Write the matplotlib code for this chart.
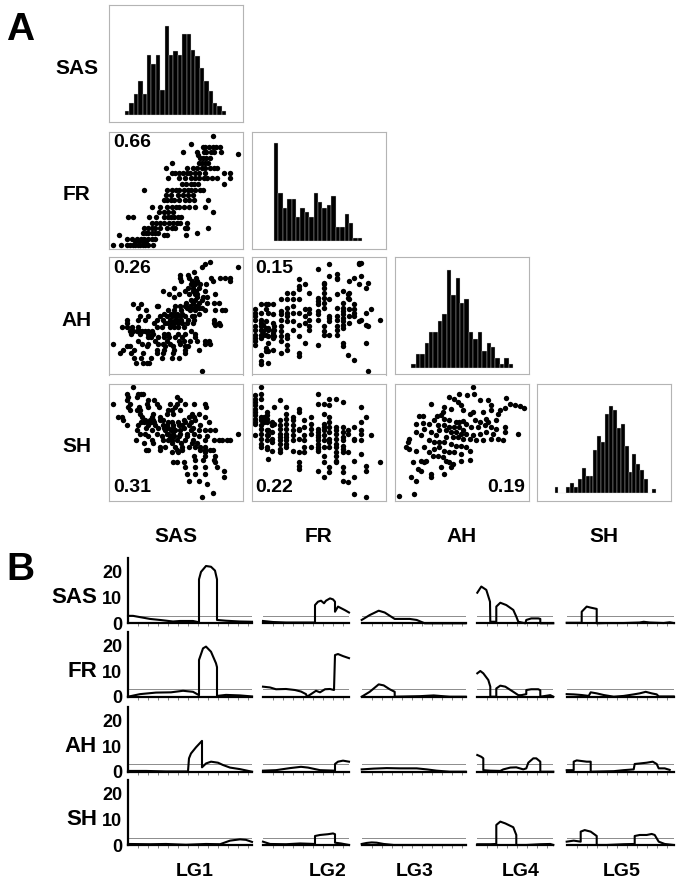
import numpy as np
import matplotlib.pyplot as plt

plt.rcParams['font.family'] = ['Liberation Sans', 'DejaVu Sans']
plt.rcParams['font.weight'] = 'bold'

TRAITS = ["SAS", "FR", "AH", "SH"]
LG_NAMES = ["LG1", "LG2", "LG3", "LG4", "LG5"]
LOD_THRESHOLD = 2.9

# histogram bar counts (one per bin)
SAS_HIST = [12, 37, 64, 102, 64, 182, 154, 182, 77, 270, 180, 192, 180, 245, 245,
            197, 179, 142, 102, 72, 37, 27, 12]
FR_HIST = [294, 146, 99, 127, 127, 72, 99, 89, 72, 146, 117, 99, 109, 137, 44,
           44, 81, 54, 9, 9]
AH_HIST = [10, 40, 40, 73, 105, 105, 138, 160, 290, 215, 268, 193, 205, 105, 85,
           105, 50, 73, 63, 30, 10, 30, 10]
SH_HIST = [18, 0, 0, 18, 30, 18, 40, 73, 50, 50, 127, 170, 150, 235, 257, 247,
           192, 205, 140, 63, 115, 85, 67, 40, 0, 10]

# scatter values, grouped by shared y (rows) or shared x (cols); y grows downward
SAS_FR_ROWS = [
    (22, [323]), (47, [258]), (55, [292, 300, 310, 322, 333, 343]),
    (72, [233, 275, 295, 303, 318, 327, 348]), (77, [398]), (80, [278]),
    (88, [283, 292, 303, 315]), (105, [200, 280, 290, 300, 308]),
    (120, [183, 245, 263, 275, 290, 300, 313, 325, 335]),
    (135, [200, 210, 222, 232, 245, 255, 268, 280, 298, 355, 373]),
    (150, [190, 220, 240, 258, 268, 282, 295, 305, 320, 335, 373]),
    (168, [230, 242, 256, 265, 278, 357]),
    (185, [118, 185, 200, 212, 222, 235, 248, 258, 270, 283, 293]),
    (200, [183, 198, 218, 233, 248, 262]),
    (215, [178, 185, 198, 208, 222, 240, 252, 265, 308]),
    (235, [140, 165, 185, 200, 212, 222, 235, 250, 270, 298]),
    (250, [163, 178, 190, 205, 322]),
    (265, [70, 85, 133, 153, 178, 188, 198, 208, 218, 228]),
    (283, [140, 153, 165, 178, 193, 205, 215, 225, 245]),
    (298, [118, 130, 140, 150, 165, 185, 200, 210, 238, 245, 308]),
    (312, [113, 123, 130, 140, 150, 158, 275]), (318, [42, 178, 185, 243]),
    (330, [65, 80, 95, 108, 118, 130, 140, 150]), (338, [90, 103, 113, 123]),
    (348, [25, 48, 65, 75, 83, 90, 98, 105, 113, 120, 128, 143]),
]
SAS_AH_ROWS = [
    (22, [315]), (30, [298]), (38, [290, 398]), (52, [265]), (62, [225, 248]),
    (72, [225, 252, 272, 318, 345, 358, 375]), (80, [228, 260, 275, 322, 375]),
    (90, [258, 268, 283, 303]), (100, [208, 248, 262, 280]),
    (110, [175, 238, 262, 272, 298]), (120, [193, 222, 250, 268, 275, 330]),
    (128, [208, 275, 293, 305]), (138, [258, 268, 290]),
    (145, [243, 262, 280, 305, 325, 340]), (150, [85, 108]),
    (155, [155, 160, 210, 225, 240, 255, 273]), (160, [100, 245, 258, 265, 280, 290]),
    (168, [123, 188, 208, 228, 253, 270, 300, 330, 350, 358]),
    (178, [178, 198, 208, 215, 230, 280]),
    (185, [105, 128, 165, 185, 200, 212, 225, 240, 260, 265]),
    (195, [65, 100, 120, 155, 175, 195, 210, 215, 228, 248, 265, 325]),
    (205, [65, 148, 180, 190, 200, 208, 218, 230, 245, 262, 325, 340]),
    (212, [328, 345]), (218, [50, 65, 80, 100, 155, 170, 195, 208, 218, 235]),
    (228, [75, 85, 95, 105, 112, 120, 130, 140, 258]),
    (238, [78, 105, 130, 145, 178, 188, 218, 240, 268]),
    (248, [130, 138, 158, 178, 192, 210, 230, 268]),
    (260, [100, 150, 185, 220, 235, 255, 275, 298, 310]),
    (268, [25, 110, 130, 158, 175, 195, 225, 298, 315]),
    (275, [65, 75, 125, 180, 205, 238, 248]), (285, [55, 88, 155, 178, 208, 238, 280]),
    (295, [45, 78, 115, 155, 175, 205, 240]), (310, [88, 108, 138, 170, 200, 220]),
    (325, [93, 115, 125, 133]), (348, [290]),
]
SAS_SH_ROWS = [
    (20, [85]), (40, [65, 100, 108, 115]), (50, [68, 95, 215]), (58, [65, 128, 148, 223]),
    (72, [25, 75, 125, 155, 195, 215, 240, 265, 300]), (80, [68, 103, 128, 162, 210, 303]),
    (90, [75, 95, 105, 190, 200, 225]), (100, [105, 145, 185, 205, 260, 280]),
    (110, [40, 50, 110, 140, 165, 250, 265, 300]),
    (118, [55, 120, 135, 145, 165, 175, 235, 270]),
    (125, [108, 118, 128, 138, 148, 190, 200, 218, 240, 258, 310]),
    (135, [65, 100, 130, 150, 175, 185, 205, 220, 230, 250, 283]),
    (143, [123, 160, 178, 190, 205, 235, 262]),
    (150, [95, 140, 180, 198, 210, 225, 258, 280, 300, 315, 330]),
    (160, [105, 120, 155, 185, 190, 203, 225, 245, 265, 398]),
    (168, [130, 170, 195, 208, 222, 245, 280, 305]),
    (178, [92, 140, 175, 190, 200, 215, 240, 262, 300, 325, 340, 350, 365, 375]),
    (188, [118, 145, 200, 228, 260, 275]),
    (198, [165, 180, 210, 230, 250, 270, 283, 300]),
    (208, [123, 130, 165, 215, 230, 285, 300, 315, 322]), (215, [200, 218, 298]),
    (225, [265, 300, 328]), (238, [270, 293, 325]), (245, [205, 215, 235, 330]),
    (258, [240, 268, 298, 335]), (270, [355]), (280, [245, 270, 300]), (290, [355]),
    (300, [250, 280]), (310, [305]), (338, [323]), (348, [290]),
]
FR_AH_COLS = [
    (22, [165, 175, 185, 195, 215, 225, 240, 250, 258, 270]),
    (40, [150, 175, 195, 205, 215, 225, 240, 250, 300, 320, 328]),
    (45, [210, 230, 240]), (55, [150, 165, 200, 220, 240, 280, 290]),
    (62, [150, 175, 220, 225, 245, 265, 290, 325]),
    (75, [150, 180, 205, 225, 235, 240, 250, 285]), (80, [215, 225, 245]),
    (100, [135, 170, 180, 195, 215, 230, 245, 260, 295]),
    (118, [115, 135, 160, 175, 185, 200, 240, 250, 270, 285]),
    (135, [115, 135, 155, 175, 200, 225]),
    (155, [75, 95, 105, 135, 175, 210, 245, 295, 305]),
    (172, [90, 165, 185, 205, 265]), (185, [115, 165, 175, 195, 215, 225]),
    (210, [45, 130, 140, 150, 170, 180, 195, 270]),
    (228, [85, 90, 100, 115, 130, 145, 160, 215, 230, 240]),
    (245, [30, 65, 135, 185, 190, 200, 240]),
    (268, [60, 70, 75, 120, 160, 185, 195, 215, 225, 240]),
    (285, [110, 145, 160, 170, 180, 190, 200, 210, 220, 265, 275]),
    (300, [120, 130, 300]), (305, [80, 115, 135, 165, 185, 205]),
    (320, [70, 150, 165, 175, 185, 315]), (335, [25, 30, 90, 200]),
    (340, [25, 65, 195]), (355, [100, 175, 210, 265]), (360, [85, 215, 348]),
    (370, [165]), (398, [195]),
]
FR_SH_COLS = [
    (22, [45, 55, 65, 75, 85, 95, 105, 115, 125, 130, 165]),
    (40, [20, 40, 55, 80, 110, 120, 135, 145, 160, 175, 190, 200]),
    (48, [110, 125]), (58, [95, 105, 115, 125, 150, 165, 180, 200, 205]),
    (62, [150, 165, 235]), (72, [125, 135, 155, 175, 185, 210]), (80, [80, 130]),
    (98, [60, 120, 135, 145, 160, 170, 180, 190, 205, 215]),
    (115, [80, 100, 115, 130, 145, 160, 170, 180, 190, 200]),
    (135, [110, 120, 135, 150, 165, 180, 210]),
    (155, [85, 95, 145, 150, 175, 215, 245, 255, 265]),
    (170, [120, 140, 165, 180, 200, 215]), (190, [110, 130, 145, 160, 200]),
    (210, [40, 70, 145, 155, 165, 170, 180, 190, 200, 205, 210, 270]),
    (228, [70, 100, 130, 140, 150, 165, 180, 200, 225, 245, 290]),
    (245, [55, 75, 110, 125, 140, 155, 175, 185, 200, 260, 275]),
    (265, [55, 140, 150, 160, 175, 190, 200, 215, 225, 240, 245]),
    (285, [65, 140, 155, 170, 180, 195, 205, 215, 260, 275, 300]),
    (300, [150, 160, 215, 305]), (320, [140, 175, 180, 240, 290, 340]),
    (340, [80, 125, 150, 160, 180, 220]), (355, [110, 255, 270, 350]),
    (370, [165]), (398, [245]),
]
AH_SH_X = [245, 205, 175, 228, 248, 188, 200, 210, 120, 265, 290, 300, 345, 355, 370,
           385, 398, 160, 180, 215, 235, 245, 275, 300, 325, 340, 155, 150, 138, 85,
           95, 130, 160, 175, 195, 205, 215, 225, 250, 265, 285, 290, 315, 320, 75,
           95, 115, 140, 160, 175, 190, 205, 215, 240, 260, 280, 300, 315, 340, 100,
           120, 145, 165, 180, 195, 210, 225, 245, 265, 285, 305, 340, 380, 75, 90,
           135, 165, 185, 200, 215, 235, 255, 275, 300, 320, 335, 55, 50, 115, 130,
           145, 160, 180, 195, 210, 225, 235, 45, 55, 75, 100, 115, 130, 145, 160,
           175, 190, 210, 125, 140, 155, 165, 175, 185, 210, 235, 65, 90, 100, 150,
           80, 90, 120, 120, 160, 180, 60, 75, 25, 68, 105]
AH_SH_Y = [20, 40, 50, 45, 42, 55, 65, 75, 72, 60, 60, 75, 52, 70, 75,
           78, 83, 80, 85, 90, 100, 95, 95, 90, 90, 82, 95, 105, 108, 108,
           108, 120, 115, 120, 125, 125, 122, 130, 118, 125, 115, 125, 118, 100, 130,
           128, 130, 135, 135, 140, 140, 140, 150, 140, 140, 135, 140, 145, 140, 145,
           155, 150, 150, 155, 155, 160, 160, 165, 160, 155, 160, 155, 160, 155, 165,
           165, 170, 170, 170, 175, 175, 180, 180, 175, 175, 180, 175, 185, 180, 185,
           185, 185, 190, 195, 195, 200, 210, 200, 205, 210, 200, 215, 205, 200, 210,
           215, 215, 220, 225, 225, 230, 240, 245, 250, 240, 238, 245, 240, 245, 260,
           265, 270, 280, 290, 280, 260, 290, 300, 345, 340, 240]
CORRELATIONS = {("FR", "SAS"): "0.66", ("AH", "SAS"): "0.26", ("AH", "FR"): "0.15",
                ("SH", "SAS"): "0.31", ("SH", "FR"): "0.22", ("SH", "AH"): "0.19"}

# LOD profiles: per trait, one (position, LOD) pair per linkage group
SAS_QTL = [
    ([0, 5, 22, 32, 45, 52, 65, 71, 71, 73, 78, 83, 87, 89, 89, 98, 112, 124],
     [2.9, 2.9, 1.7, 1.3, 0.7, 0.9, 0.9, 0.4, 17.1, 20, 22.3, 22, 20.5, 17.1, 1.3, 1.0, 0.7, 0.6]),
    ([0, 10, 23, 37, 52, 52, 55, 58, 61, 63, 67, 70, 72, 72, 75, 78, 82, 86],
     [0.9, 0.5, 0.3, 0.3, 0.3, 7.1, 8.4, 8.8, 7.8, 8.8, 9.7, 9.3, 8.4, 4.5, 6.5, 5.9, 5.1, 4.2]),
    ([0, 8, 17, 23, 33, 48, 55, 63, 104],
     [1.3, 3.2, 4.9, 4.2, 1.7, 1.7, 1.3, 0, 0]),
    ([0, 4, 9, 12.7, 13, 19, 19, 23, 29, 36, 39, 41, 48, 49, 54, 61, 63, 63, 76],
     [11.9, 14.3, 13.0, 8.4, 0.6, 0.6, 6.5, 8.0, 7.1, 5.2, 2.6, 0.6, 0, 1.3, 1.9, 1.9, 1.7, 0, 0]),
    ([0, 15, 15, 20, 24, 30, 30, 40, 57, 73, 77, 83, 97, 103, 107],
     [0.2, 0.2, 4.5, 6.5, 6.1, 5.6, 0, 0.1, 0.1, 0.3, 0.6, 0.3, 0.1, 0.4, 0.1]),
]
FR_QTL = [
    ([0, 12, 28, 43, 55, 65, 71, 71, 75, 78, 83, 88, 89, 89, 98, 112, 124],
     [0, 1.0, 1.6, 1.7, 2.3, 1.9, 0.6, 14.3, 18.8, 19.5, 17.5, 13, 11.5, 0.3, 0.7, 0.5, 0.1]),
    ([0, 7, 13, 23, 32, 38, 43, 44, 48, 53, 57, 62, 67, 71, 72, 75, 80, 86],
     [3.9, 3.6, 2.9, 3.0, 2.6, 2.0, 1.0, 0, 1.0, 2.3, 1.7, 2.9, 3.0, 2.6, 16.2, 16.6, 15.8, 15.0]),
    ([0, 8, 17, 22, 28, 33, 33, 45, 58, 72, 78, 88, 104],
     [0, 1.9, 4.8, 4.4, 2.9, 1.9, 0, 0.1, 0.2, 0.5, 0.3, 0, 0]),
    ([0, 3, 6, 11, 13, 13, 19, 19, 23, 28, 36, 41, 44, 49, 49, 54, 61, 63, 63, 68, 73, 76],
     [9.1, 10, 9.1, 6.5, 3.9, 0, 0, 3.2, 4.3, 3.9, 1.9, 0.6, 0.6, 1.0, 2.6, 2.9, 2.9, 2.5, 0, 0.3, 0.6, 0]),
    ([0, 7, 15, 22, 24, 30, 37, 47, 57, 67, 73, 79, 85, 90, 92, 107],
     [1.0, 0.9, 0.65, 0.3, 1.7, 1.3, 0.65, 0, 0.3, 0.9, 1.3, 1.9, 1.3, 0.9, 0.1, 0.1]),
]
AH_QTL = [
    ([0, 18, 38, 60, 61, 63, 68, 74, 74, 78, 83, 90, 95, 102, 112, 124],
     [0.3, 0.3, 0.1, 0.1, 5.2, 7.1, 9.5, 12, 1.7, 3.2, 3.9, 3.5, 2.6, 1.6, 1.0, 0]),
    ([0, 13, 27, 38, 45, 57, 72, 72, 75, 80, 86],
     [0.4, 0.6, 1.4, 1.9, 1.6, 0.6, 0.4, 3.0, 3.9, 4.3, 3.9]),
    ([0, 12, 25, 38, 55, 65, 75, 88, 104],
     [0.9, 1.2, 1.4, 1.3, 1.3, 0.9, 0.4, 0, 0]),
    ([0, 4, 6, 6, 13, 23, 26, 33, 39, 46, 49, 51, 56, 59, 63, 63, 76],
     [6.5, 5.8, 5.2, 0.6, 0.4, 0.3, 0.9, 1.6, 1.7, 0.9, 1.3, 3.5, 5.2, 5.2, 3.9, 0, 0]),
    ([0, 7, 7, 10, 20, 24, 24, 47, 57, 67, 68, 73, 80, 86, 90, 92, 98, 103],
     [0.6, 0.6, 3.9, 4.4, 3.9, 3.9, 0, 0.2, 0.6, 0.9, 3.0, 3.2, 3.5, 3.9, 3.0, 1.3, 1.3, 0.7]),
]
SH_QTL = [
    ([0, 22, 38, 58, 78, 92, 102, 112, 118, 124],
     [0.4, 0.3, 0.4, 0.1, 0.4, 0.3, 1.7, 2.2, 2.0, 1.2]),
    ([0, 7, 23, 37, 52, 52, 57, 65, 70, 72, 72, 78, 86],
     [1.3, 0.4, 0.3, 0.6, 0.4, 3.5, 3.9, 4.2, 4.5, 4.2, 0.9, 0.6, 0]),
    ([0, 5, 10, 15, 22, 32, 104],
     [0.4, 0.8, 1.0, 0.9, 0.4, 0, 0]),
    ([0, 13, 19, 19, 23, 28, 36, 39, 39, 49, 63, 73, 76],
     [0.3, 0.3, 0.4, 7.8, 9.1, 8.4, 6.9, 3.9, 0, 0, 0.3, 0.4, 0]),
    ([0, 7, 14, 14, 18, 24, 30, 30, 40, 57, 68, 68, 73, 80, 85, 88, 92, 98, 107],
     [1.3, 1.7, 1.3, 5.2, 5.8, 5.2, 3.5, 0, 0, 0.3, 0.4, 3.5, 3.9, 3.9, 4.3, 3.9, 1.3, 0.4, 0]),
]
LG_LENGTHS = [124, 86, 104, 76, 107]

W, H = 681, 885
fig = plt.figure(figsize=(W / 100, H / 100), dpi=100)


def px_axes(x0, y0, w, h):
    return fig.add_axes([x0 / W, 1 - (y0 + h) / H, w / W, h / H])


def expand_rows(rows):
    xs, ys = [], []
    for y, xlist in rows:
        xs += xlist
        ys += [y] * len(xlist)
    return xs, ys


def expand_cols(cols):
    xs, ys = [], []
    for x, ylist in cols:
        xs += [x] * len(ylist)
        ys += ylist
    return xs, ys


# ---------- panel A ----------
col_left = [109, 251.5, 395, 537]
row_top = [5, 131.5, 257.5, 383.5]
box_w, box_h = 134, 117

hists = {"SAS": (SAS_HIST, (-3.6, 26.8), (-21, 332)),
         "FR": (FR_HIST, (-5.1, 25.3), (-21, 329)),
         "AH": (AH_HIST, (-3.7, 26.6), (-20, 328)),
         "SH": (SH_HIST, (-4.5, 29.9), (-23, 325))}

scatters = {("FR", "SAS"): expand_rows(SAS_FR_ROWS),
            ("AH", "SAS"): expand_rows(SAS_AH_ROWS),
            ("SH", "SAS"): expand_rows(SAS_SH_ROWS),
            ("AH", "FR"): expand_cols(FR_AH_COLS),
            ("SH", "FR"): expand_cols(FR_SH_COLS),
            ("SH", "AH"): (AH_SH_X, AH_SH_Y)}

for i, row_trait in enumerate(TRAITS):
    for j, col_trait in enumerate(TRAITS[:i + 1]):
        ax = px_axes(col_left[j], row_top[i], box_w, box_h)
        ax.set_xticks([])
        ax.set_yticks([])
        for sp in ax.spines.values():
            sp.set_color("#b4b4b4")
            sp.set_linewidth(0.8)
        if i == j:
            counts, xl, yl = hists[row_trait]
            ax.bar(np.arange(len(counts)), counts, width=1, align="edge",
                   color="black", edgecolor="#d8d8d8", linewidth=0.25)
            ax.set_xlim(*xl)
            ax.set_ylim(*yl)
        else:
            xs, ys = scatters[(row_trait, col_trait)]
            ax.scatter(xs, ys, s=15, color="black", linewidths=0)
            ax.set_xlim(12, 413)
            ax.set_ylim(359, 10)
            r = CORRELATIONS[(row_trait, col_trait)]
            if row_trait == "SH" and col_trait == "AH":
                ax.text(0.97, 0.035, r, transform=ax.transAxes, ha="right", va="bottom",
                        fontsize=14, weight="bold")
            elif row_trait == "SH":
                ax.text(0.03, 0.035, r, transform=ax.transAxes, ha="left", va="bottom",
                        fontsize=14, weight="bold")
            else:
                ax.text(0.03, 0.975, r, transform=ax.transAxes, ha="left", va="top",
                        fontsize=14, weight="bold")

    fig.text(77 / W, 1 - (row_top[i] + box_h / 2 + 5) / H, row_trait, ha="center",
             va="center", fontsize=15, weight="bold")
    fig.text((col_left[i] + box_w / 2) / W, 1 - 537 / H, TRAITS[i], ha="center",
             va="center", fontsize=15, weight="bold")

fig.text(6 / W, 1 - 30 / H, "A", ha="left", va="center", fontsize=28, weight="bold")

# ---------- panel B ----------
lg_left = [128, 263, 361.7, 477.3, 566.7]
baselines = [623.3, 696.7, 771.7, 845]
px_per_lod = 2.57
ymin, ymax = -0.3, 25.3
qtl_sets = [SAS_QTL, FR_QTL, AH_QTL, SH_QTL]

for i, trait in enumerate(TRAITS):
    top = baselines[i] - ymax * px_per_lod
    height = (ymax - ymin) * px_per_lod
    for k, lg in enumerate(LG_NAMES):
        ax = px_axes(lg_left[k], top, LG_LENGTHS[k], height)
        pos, lod = qtl_sets[i][k]
        ax.axhline(LOD_THRESHOLD, color="#8c8c8c", linewidth=0.7, zorder=1)
        ax.plot(pos, lod, color="black", linewidth=1.5, solid_joinstyle="round",
                clip_on=False, zorder=3)
        ax.set_xlim(0, LG_LENGTHS[k])
        ax.set_ylim(ymin, ymax)
        ax.patch.set_visible(False)
        for s in ["top", "right"]:
            ax.spines[s].set_visible(False)
        ax.spines["bottom"].set_position(("data", 0))
        ax.spines["bottom"].set_linewidth(1.6)
        ax.set_xticks(np.arange(10, LG_LENGTHS[k], 10))
        ax.set_xticklabels([])
        ax.tick_params(axis="x", length=2, width=0.5, color="#555555")
        if k == 0:
            ax.spines["left"].set_linewidth(1.6)
            ax.spines["left"].set_bounds(0, ymax)
            ax.set_yticks([0, 10, 20])
            ax.set_yticklabels(["0", "10", "20"], fontsize=13, weight="bold")
            ax.tick_params(axis="y", length=0, pad=4)
            ax.text(-31, 10, trait, ha="right", va="center", fontsize=16,
                    weight="bold", transform=ax.transData)
        else:
            ax.spines["left"].set_visible(False)
            ax.set_yticks([])

lg_label_x = [195, 328, 415, 521, 622]
for k, lg in enumerate(LG_NAMES):
    fig.text(lg_label_x[k] / W, 1 - 871 / H, lg, ha="center", va="center",
             fontsize=14, weight="bold")

fig.text(6 / W, 1 - 570 / H, "B", ha="left", va="center", fontsize=28, weight="bold")

fig.savefig("out.png", dpi=100)
